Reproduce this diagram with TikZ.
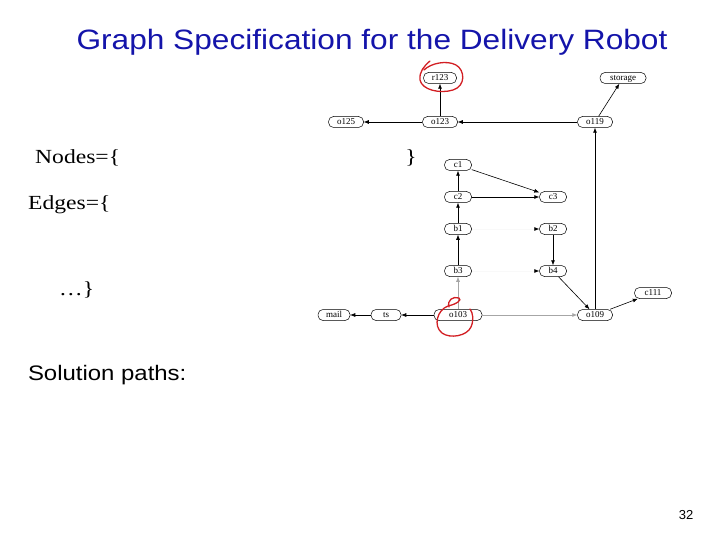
\documentclass[tikz,border=0pt]{standalone}
\usepackage{fontspec}
\setmainfont{Liberation Serif}
\setsansfont{Liberation Sans}
\usetikzlibrary{arrows.meta}
\definecolor{titleblue}{RGB}{20,20,170}
\definecolor{annred}{RGB}{210,30,35}
\tikzset{
  gnode/.style={rectangle, rounded corners=5pt, draw, line width=0.5pt, inner xsep=3pt, inner ysep=2pt,
    text height=5.5pt, text depth=0.5pt,
    minimum height=11pt, minimum width=27pt, font=\fontsize{9}{9}\selectfont},
  edge/.style={line width=0.6pt, -{Latex[length=5pt,width=4pt]}},
  faint/.style={draw=gray!5, line width=0.6pt, -{Latex[length=5pt,width=4pt,black]}},
  ann/.style={draw=annred, line width=1.3pt, line cap=round},
  serifbig/.style={font=\fontsize{20}{20}\selectfont, xscale=1.18},
  sansbig/.style={font=\sffamily\fontsize{21}{21}\selectfont, xscale=1.14},
}
\begin{document}
\begin{tikzpicture}[x=1pt,y=-1pt]
\useasboundingbox (0,0) rectangle (720,540);
% title and text
\node[font=\sffamily\fontsize{28}{28}\selectfont, text=titleblue, xscale=1.13] (title) at (372,42) {Graph Specification for the Delivery Robot};
\node[anchor=west, serifbig] (nodes) at (31,158) {Nodes=\{};
\node[serifbig] (nclose) at (411,158) {\}};
\node[anchor=west, serifbig] (edges) at (24,205) {Edges=\{};
\node[anchor=west, serifbig] (dots) at (55,290) {\dots\}};
\node[anchor=west, sansbig] (sol) at (24,375) {Solution paths:};
\node[font=\sffamily\fontsize{13}{13}\selectfont] (page) at (686,515) {32};
% graph nodes
\node[gnode, minimum width=33pt] (r123) at (440,78) {r123};
\node[gnode, minimum width=46pt] (storage) at (623,78) {storage};
\node[gnode, minimum width=35pt] (o125) at (346,122) {o125};
\node[gnode, minimum width=35pt] (o123) at (440,122) {o123};
\node[gnode, minimum width=35pt] (o119) at (595,122) {o119};
\node[gnode] (c1) at (458,165) {c1};
\node[gnode] (c2) at (458,197) {c2};
\node[gnode] (c3) at (553,197) {c3};
\node[gnode] (b1) at (458,229) {b1};
\node[gnode] (b2) at (553,229) {b2};
\node[gnode] (b3) at (458,271) {b3};
\node[gnode] (b4) at (553,271) {b4};
\node[gnode, minimum width=37pt] (c111) at (653,293) {c111};
\node[gnode, minimum width=32pt] (mail) at (334,315) {mail};
\node[gnode, minimum width=30pt] (ts) at (386,315) {ts};
\node[gnode, minimum width=48pt] (o103) at (458,315) {o103};
\node[gnode, minimum width=35pt] (o109) at (595,315) {o109};
% edges
\draw[edge] (o123) -- (r123);
\draw[edge] (o123) -- (o125);
\draw[edge] (o119) -- (o123);
\draw[edge] (o119) -- (storage);
\draw[edge] (o109) -- (o119);
\draw[edge] (c1) -- (c3);
\draw[edge] (c2) -- (c1);
\draw[edge] (c2) -- (c3);
\draw[edge] (b1) -- (c2);
\draw[edge] (b3) -- (b1);
\draw[edge, draw=gray!70] (o103) -- (b3);
\draw[edge] (o103) -- (ts);
\draw[edge] (ts) -- (mail);
\draw[edge, draw=gray!70] (o103) -- (o109);
\draw[edge] (b2) -- (b4);
\draw[edge] (b4) -- (o109);
\draw[edge] (o109) -- (c111);
\draw[faint] (b1) -- (b2);
\draw[faint] (b3) -- (b4);
% red annotations
\draw[ann] (430,61) .. controls (424,66) and (419,72) .. (420,80)
  .. controls (422,90) and (440,94) .. (453,90)
  .. controls (466,86) and (465,70) .. (456,65)
  .. controls (447,60) and (431,63) .. (424,70);
\draw[ann] (449,307) .. controls (447,300) and (453,296) .. (459,298)
  .. controls (462,300) and (457,304) .. (448,306)
  .. controls (437,310) and (433,326) .. (442,333)
  .. controls (450,339) and (467,336) .. (471,327)
  .. controls (474,320) and (473,313) .. (470,309);
\end{tikzpicture}
\end{document}
